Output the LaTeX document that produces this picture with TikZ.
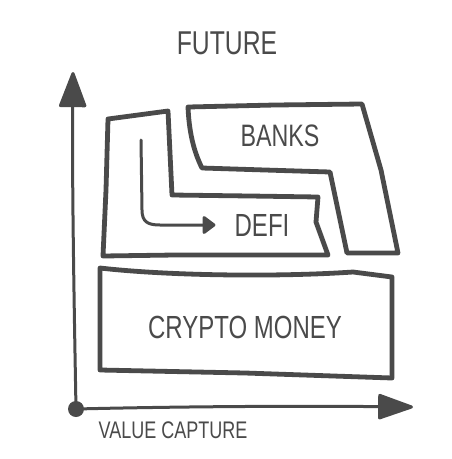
\documentclass[tikz,border=0pt]{standalone}
\usepackage{fontspec}
\usepackage{tikz}
\usetikzlibrary{arrows.meta, calc}

\newfontfamily\sketchfont[FakeStretch=0.75]{Liberation Sans}
\definecolor{ink}{HTML}{4A4A4A}

\tikzset{
  outline/.style={draw=ink, line width=4.8pt, line join=round, line cap=round},
  axis/.style={draw=ink, line width=3pt, line cap=round},
  caption/.style={text=ink, inner sep=0pt, font=\sketchfont\fontsize{#1}{#1}\selectfont},
  caption/.default=30
}

\begin{document}
\begin{tikzpicture}[x=1pt, y=-1pt]
\useasboundingbox (0,0) rectangle (452,459);

 %% Parameters
 %% origin of the axes, can be moved
\def\OrigX{76}
\def\OrigY{409}
\coordinate (orig) at (\OrigX, \OrigY);
\coordinate (ytip) at (73, 72);
\coordinate (xtip) at (413, 407);

 %% labels
\node[caption=33] (future) at (227, 43) {FUTURE};
\node[caption=31] (banks) at (280, 136) {BANKS};
\node[caption=32] (defi) at (262, 225) {DEFI};
\node[caption=32] (crypto) at (245, 327) {CRYPTO MONEY};
\node[caption=24] (value) at (173, 430) {VALUE CAPTURE};

 %% ***Block : BANKS***
\draw[outline] (188,107) -- (275,105) -- (362,104) -- (381,170) -- (398,253)
      -- (347,253) -- (330,172) -- (265,170) -- (202,168)
      .. controls (193,150) and (189,130) .. cycle;

 %% ***Block : DEFI***
\draw[outline] (108,119) -- (168,111) -- (172,195) -- (250,196) -- (318,197)
      -- (316,222) -- (328,255) -- (175,255) -- (103,256) -- (106,190) -- cycle;
% arrow towards the label
\coordinate (bend) at (141, 140);
\draw[axis, -{Triangle[length=14pt, width=20pt, round]}] (bend)
      -- (142,210) .. controls (142,222) and (148,225) .. (160,225)
      -- ([xshift=-19pt]defi.west);

 %% ***Block : CRYPTO MONEY***
\draw[outline] (100,268) .. controls (170,276) and (280,277) .. (353,272)
      -- (392,277) -- (392,378) -- (245,373) -- (100,370) -- cycle;

 %% Axes
\draw[axis, -{Triangle[length=38pt, width=28pt, round]}] (orig)
      .. controls (74,300) and (72,180) .. (ytip);
\draw[axis, -{Triangle[length=38pt, width=26pt, round]}] (orig)
      .. controls (200,406) and (320,406) .. (xtip);
\fill[ink] (orig) circle (8);

\end{tikzpicture}
\end{document}
